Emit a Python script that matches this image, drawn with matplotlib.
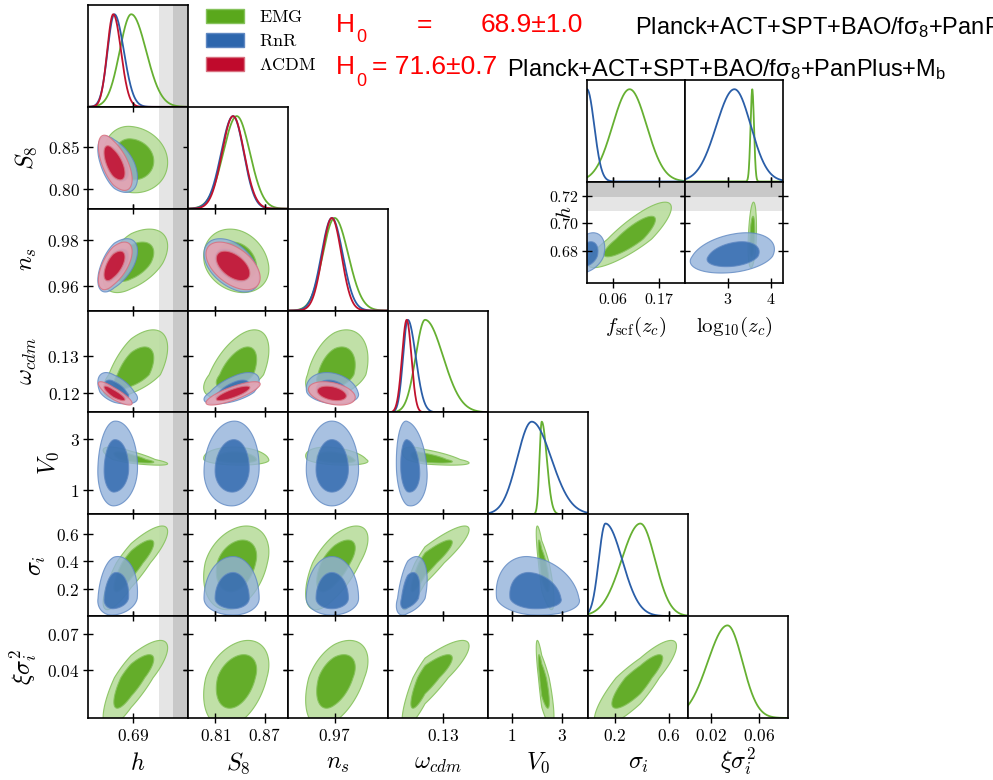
import numpy as np
import matplotlib.pyplot as plt
from matplotlib.patches import Patch

plt.rcParams['mathtext.fontset'] = 'cm'
# the "custom" math set is only used by the header lines
plt.rcParams['mathtext.rm'] = 'Liberation Sans'
plt.rcParams['mathtext.it'] = 'Liberation Sans:italic'
plt.rcParams['mathtext.bf'] = 'Liberation Sans:bold'
plt.rcParams['axes.linewidth'] = 1.2

W, H = 993, 780

# ---- parameters, ranges and ticks ----
names = ['h', 'S8', 'ns', 'omega_cdm', 'V0', 'sigma_i', 'xi_sigma2']
axis_labels = [r'$h$', r'$S_8$', r'$n_s$', r'$\omega_{cdm}$', r'$V_0$',
               r'$\sigma_i$', r'$\xi\sigma_i^2$']
lims = [(0.6565, 0.7305), (0.7765, 0.8985), (0.9495, 0.9935), (0.1147, 0.1425),
        (0.05, 4.05), (0.0, 0.745), (0.001, 0.0845)]
col_ticks = [[0.69], [0.81, 0.87], [0.97], [0.13], [1, 3], [0.2, 0.6], [0.02, 0.06]]
row_ticks = [[], [0.80, 0.85], [0.96, 0.98], [0.12, 0.13], [1, 3],
             [0.2, 0.4, 0.6], [0.04, 0.07]]
tick_fmt = ['{:.2f}', '{:.2f}', '{:.2f}', '{:.2f}', '{:.0f}', '{:.1f}', '{:.2f}']
xlabel_pad = [4, 4, 4, 4, 4, 4, 0]

# local H0 band on h
h_band_1s = (0.709, 0.7195)
h_band_2s = (0.7195, 0.75)

# ---- marginal summaries: peak, lower width, upper width ----
emg_peak = [0.6885, 0.836, 0.9700, 0.1250, 2.20, 0.39, 0.034]
emg_lo = [0.0085, 0.0165, 0.0052, 0.0026, 0.09, 0.14, 0.0165]
emg_hi = [0.0110, 0.0160, 0.0060, 0.0050, 0.20, 0.11, 0.0125]

rnr_peak = [0.6760, 0.8315, 0.9688, 0.1202, 1.80, 0.13]
rnr_lo = [0.0050, 0.0145, 0.0046, 0.0013, 0.58, 0.05]
rnr_hi = [0.0070, 0.0130, 0.0048, 0.0022, 0.78, 0.125]

lcdm_peak = [0.6752, 0.8315, 0.9688, 0.1199]
lcdm_lo = [0.0045, 0.0135, 0.0042, 0.0013]
lcdm_hi = [0.0057, 0.0135, 0.0042, 0.0013]

# ---- pairwise correlations (row param, column param) ----
emg_corr = {
    (1, 0): -0.10, (2, 0): 0.50, (3, 0): 0.60, (4, 0): -0.75, (5, 0): 0.85, (6, 0): 0.80,
    (2, 1): -0.20, (3, 1): 0.55, (4, 1): -0.10, (5, 1): 0.30, (6, 1): 0.35,
    (3, 2): 0.35, (4, 2): -0.30, (5, 2): 0.65, (6, 2): 0.45,
    (4, 3): -0.60, (5, 3): 0.90, (6, 3): 0.85,
    (5, 4): -0.80, (6, 4): -0.80,
    (6, 5): 0.85,
}
rnr_corr = {
    (1, 0): -0.50, (2, 0): 0.55, (3, 0): -0.50, (4, 0): 0.05, (5, 0): 0.15,
    (2, 1): -0.45, (3, 1): 0.60, (4, 1): 0.05, (5, 1): 0.00,
    (3, 2): -0.20, (4, 2): 0.00, (5, 2): 0.00,
    (4, 3): -0.15, (5, 3): 0.45,
    (5, 4): -0.15,
}
lcdm_corr = {
    (1, 0): -0.60, (2, 0): 0.60, (3, 0): -0.85,
    (2, 1): -0.50, (3, 1): 0.80,
    (3, 2): -0.35,
}

# ---- inset: f_scf(z_c) and log10(z_c) against h ----
inset_labels = [r'$f_{\rm scf}(z_c)$', r'$\mathrm{log}_{10}(z_c)$']
inset_lims = [(0.0, 0.23), (2.0, 4.28)]
inset_ticks = [[0.06, 0.17], [3, 4]]
inset_fmt = ['{:.2f}', '{:.0f}']
inset_h_ticks = [0.68, 0.70, 0.72]
emg_inset_peak = [0.100, 3.565]
emg_inset_lo = [0.040, 0.040]
emg_inset_hi = [0.040, 0.040]
emg_inset_corr = [0.85, 0.30]
rnr_inset_peak = [0.0, 3.15]
rnr_inset_lo = [0.017, 0.42]
rnr_inset_hi = [0.017, 0.38]
rnr_inset_corr = [0.35, 0.30]

models = [
    dict(label=r'$\mathrm{EMG}$', peak=emg_peak, lo=emg_lo, hi=emg_hi, corr=emg_corr,
         line='#66b032', dark='#5aa81c', light='#b9dd9e', edge='#86c25c', alpha=0.9),
    dict(label=r'$\mathrm{RnR}$', peak=rnr_peak, lo=rnr_lo, hi=rnr_hi, corr=rnr_corr,
         line='#2a5ea8', dark='#2d66ad', light='#93b2da', edge='#5f88c2', alpha=0.8),
    dict(label=r'$\Lambda\mathrm{CDM}$', peak=lcdm_peak, lo=lcdm_lo, hi=lcdm_hi, corr=lcdm_corr,
         line='#c0122e', dark='#c00a2c', light='#eaa2b0', edge='#d8707f', alpha=0.85),
]

R68, R95 = 1.515, 2.448


def plot_marginal(ax, peak, lo, hi, lim, color):
    x = np.linspace(lim[0], lim[1], 500)
    s = np.where(x < peak, lo, hi)
    ax.plot(x, np.exp(-0.5 * ((x - peak) / s) ** 2), color=color, lw=1.3)


def plot_contours(ax, px, py, rho, m):
    t = np.linspace(0, 2 * np.pi, 400)
    for r, fc in ((R95, m['light']), (R68, m['dark'])):
        u = r * np.cos(t)
        v = r * (rho * np.cos(t) + np.sqrt(1 - rho ** 2) * np.sin(t))
        x = px[0] + u * np.where(u < 0, px[1], px[2])
        y = py[0] + v * np.where(v < 0, py[1], py[2])
        ax.fill(x, y, facecolor=fc, edgecolor=m['edge'], lw=0.8, alpha=m['alpha'])


def style_ticks(ax, full):
    ax.tick_params(direction='inout', length=7, width=1.0, labelsize=12.5,
                   top=full, right=full, left=full, bottom=True,
                   labelbottom=False, labelleft=False)
    ax.tick_params(axis='x', pad=3)
    ax.tick_params(axis='y', pad=2.5)


fig = plt.figure(figsize=(W / 100, H / 100), dpi=100)
gs = fig.add_gridspec(7, 7, left=88 / W, right=788 / W, top=1 - 5 / H, bottom=1 - 718 / H,
                      wspace=0, hspace=0)

n = len(names)
for i in range(n):
    for j in range(i + 1):
        ax = fig.add_subplot(gs[i, j])
        ax.set_xlim(lims[j])
        ax.set_xticks(col_ticks[j])
        if j == 0:
            ax.axvspan(*h_band_1s, color='#e5e5e5', lw=0, zorder=0)
            ax.axvspan(*h_band_2s, color='#c8c8c8', lw=0, zorder=0)
        if i == j:
            ax.set_ylim(0, 1.1)
            ax.set_yticks([])
            style_ticks(ax, False)
            for m in models:
                if i < len(m['peak']):
                    plot_marginal(ax, m['peak'][i], m['lo'][i], m['hi'][i], lims[i], m['line'])
        else:
            ax.set_ylim(lims[i])
            ax.set_yticks(row_ticks[i])
            style_ticks(ax, True)
            for m in models:
                if i < len(m['peak']):
                    px = (m['peak'][j], m['lo'][j], m['hi'][j])
                    py = (m['peak'][i], m['lo'][i], m['hi'][i])
                    plot_contours(ax, px, py, m['corr'][(i, j)], m)
        if i == n - 1:
            ax.tick_params(labelbottom=True)
            ax.set_xticklabels(['$' + tick_fmt[j].format(v) + '$' for v in col_ticks[j]])
            ax.set_xlabel(axis_labels[j], fontsize=17.5, labelpad=xlabel_pad[j])
        if j == 0 and i > 0:
            ax.tick_params(labelleft=True)
            ax.set_yticklabels(['$' + tick_fmt[i].format(v) + '$' for v in row_ticks[i]])
            ax.set_ylabel(axis_labels[i], fontsize=17.5, labelpad=6)

# ---- inset ----
gi = fig.add_gridspec(2, 2, left=587 / W, right=783 / W, top=1 - 80 / H, bottom=1 - 283 / H,
                      wspace=0, hspace=0)
inset_models = [
    (models[0], emg_inset_peak, emg_inset_lo, emg_inset_hi, emg_inset_corr),
    (models[1], rnr_inset_peak, rnr_inset_lo, rnr_inset_hi, rnr_inset_corr),
]
for k in range(2):
    top = fig.add_subplot(gi[0, k])
    top.set_xlim(inset_lims[k])
    top.set_ylim(0, 1.1)
    top.set_xticks(inset_ticks[k])
    top.set_yticks([])
    style_ticks(top, False)
    for m, pk, lo, hi, _ in inset_models:
        plot_marginal(top, pk[k], lo[k], hi[k], inset_lims[k], m['line'])

    ax = fig.add_subplot(gi[1, k])
    ax.set_xlim(inset_lims[k])
    ax.set_ylim(lims[0])
    ax.set_xticks(inset_ticks[k])
    ax.set_yticks(inset_h_ticks)
    ax.axhspan(*h_band_1s, color='#e5e5e5', lw=0, zorder=0)
    ax.axhspan(*h_band_2s, color='#c8c8c8', lw=0, zorder=0)
    style_ticks(ax, True)
    ax.tick_params(labelsize=11.5, labelbottom=True)
    ax.set_xticklabels(['$' + inset_fmt[k].format(v) + '$' for v in inset_ticks[k]])
    ax.set_xlabel(inset_labels[k], fontsize=15, labelpad=6)
    for m, pk, lo, hi, corr in inset_models:
        px = (pk[k], lo[k], hi[k])
        py = (m['peak'][0], m['lo'][0], m['hi'][0])
        plot_contours(ax, px, py, corr[k], m)
    if k == 0:
        ax.tick_params(labelleft=True)
        ax.set_yticklabels(['$' + '{:.2f}'.format(v) + '$' for v in inset_h_ticks])
        ax.set_ylabel(r'$h$', fontsize=15)
        ax.yaxis.set_label_coords(-0.12, 0.70)

# ---- legend ----
handles = [Patch(facecolor=m['dark'], edgecolor=m['edge'], lw=1.0, label=m['label']) for m in models]
fig.legend(handles=handles, loc='upper left', bbox_to_anchor=(206 / W, 1 - 8 / H),
           frameon=False, fontsize=13, handlelength=2.1, handleheight=0.8,
           handletextpad=0.85, labelspacing=0.33, borderpad=0, borderaxespad=0)

# ---- header lines ----
red_kw = dict(color='red', fontsize=19, family='Liberation Sans', va='baseline')
blk_kw = dict(color='black', fontsize=17, family='Liberation Sans', va='baseline',
              math_fontfamily='custom')
sub_kw = dict(color='red', fontsize=13, family='Liberation Sans', va='baseline')

fig.text(336 / W, 1 - 32 / H, 'H', **red_kw)
fig.text(356 / W, 1 - 42 / H, '0', **sub_kw)
fig.text(417 / W, 1 - 32 / H, '=', **red_kw)
fig.text(481 / W, 1 - 32 / H, '68.9±1.0', **red_kw)
fig.text(635 / W, 1 - 34 / H, r'Planck+ACT+SPT+BAO/fσ$_8$+PanPlus', **blk_kw)

fig.text(336 / W, 1 - 74 / H, 'H', **red_kw)
fig.text(356 / W, 1 - 86 / H, '0', **sub_kw)
fig.text(372 / W, 1 - 74 / H, '= 71.6±0.7', **red_kw)
fig.text(507 / W, 1 - 76 / H, r'Planck+ACT+SPT+BAO/fσ$_8$+PanPlus+M$_\mathrm{b}$', **blk_kw)

fig.savefig('out.png', dpi=100)
